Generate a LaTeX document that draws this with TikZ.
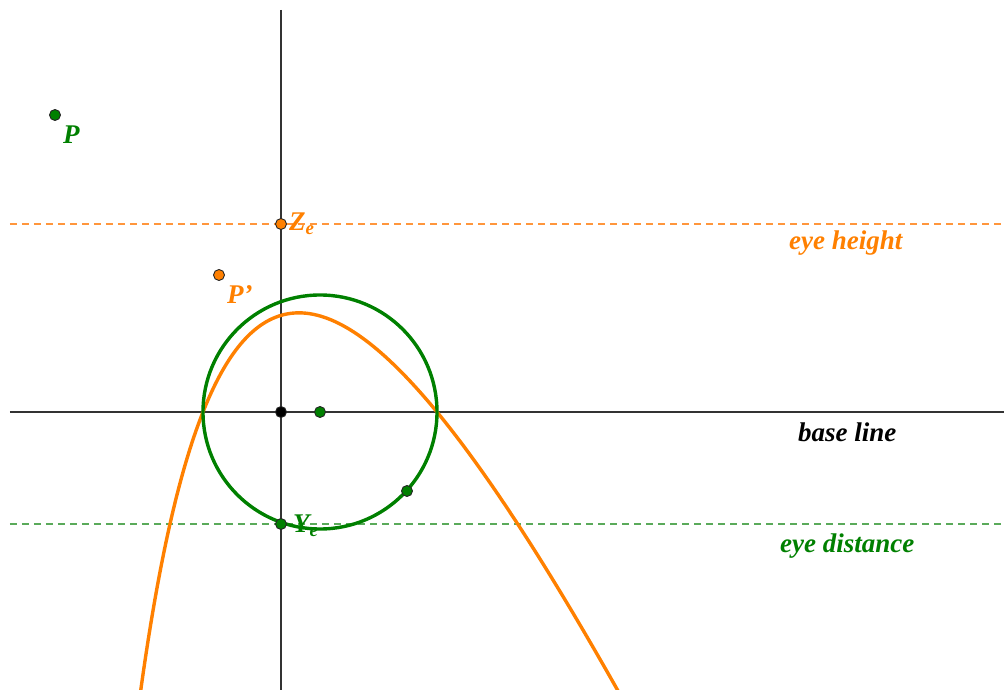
\documentclass[tikz,border=0pt]{standalone}
\usepackage{fontspec}
\setmainfont{Liberation Serif}
\usepackage{tikz}
\usetikzlibrary{positioning,calc}
\definecolor{eyeorange}{RGB}{255,128,0}
\definecolor{eyegreen}{RGB}{0,128,0}
\definecolor{dashorange}{RGB}{255,150,60}
\definecolor{dashgreen}{RGB}{90,170,90}
\tikzset{
    dotpt/.style={circle, draw=black!85, fill=#1, line width=0.9pt,
                  inner sep=0pt, minimum size=11pt},
    lbl/.style={text=#1, font=\fontsize{27}{31}\selectfont\bfseries\itshape,
                inner sep=0pt, anchor=base west},
    axisline/.style={draw=black!80, line width=1.3pt},
    guideline/.style={draw=#1, line width=1.3pt, dash pattern=on 7pt off 5pt},
    curvepath/.style={draw=#1, line width=3.4pt},
}

\begin{document}
\begin{tikzpicture}[x=1pt, y=1pt]
    \useasboundingbox (-281,-278) rectangle (723,412);
    \clip (-281,-278) rectangle (723,412);

    \coordinate (axN) at (0,402);
    \coordinate (axS) at (0,-278);
    \coordinate (axW) at (-271,0);
    \coordinate (axE) at (723,0);
    \coordinate (hW)  at (-271,188);
    \coordinate (hE)  at (723,188);
    \coordinate (dW)  at (-271,-112);
    \coordinate (dE)  at (723,-112);

    \draw[axisline] (axN) -- (axS);
    \draw[axisline] (axW) -- (axE);
    \draw[guideline=dashorange] (hW) -- (hE);
    \draw[guideline=dashgreen]  (dW) -- (dE);

    \draw[curvepath=eyeorange] plot[domain=-142:338, samples=160, smooth]
        (\x, {2.35*100*((\x+78)/100)*((156-\x)/100)/((\x+296)/100)});

    \coordinate (C) at (39,0);
    \draw[curvepath=eyegreen] (C) circle[radius=117pt];

    \node[dotpt=eyegreen]  (P)  at (-226,297) {};
    \node[dotpt=eyeorange] (Ze) at (0,188)    {};
    \node[dotpt=eyeorange] (Pp) at (-62,137)  {};
    \node[dotpt=black]     (O)  at (0,0)      {};
    \node[dotpt=eyegreen]  (Cc) at (C)        {};
    \node[dotpt=eyegreen]  (Q)  at (126,-79)  {};
    \node[dotpt=eyegreen]  (Ye) at (0,-112)   {};

    \node[lbl=eyegreen]  (Plbl)  at ([shift={(8,-29)}]P.center)  {P};
    \node[lbl=eyeorange] (Zelbl) at ([shift={(8,-7)}]Ze.center)  {Z\textsubscript{e}};
    \node[lbl=eyeorange] (Pplbl) at ([shift={(8,-29)}]Pp.center) {P'};
    \node[lbl=eyegreen]  (Yelbl) at ([shift={(12,-9)}]Ye.center) {Y\textsubscript{e}};

    \node[lbl=eyeorange] (hlbl) at (508,162)  {eye height};
    \node[lbl=black]     (blbl) at (517,-30)  {base line};
    \node[lbl=eyegreen]  (dlbl) at (499,-141) {eye distance};
\end{tikzpicture}
\end{document}
